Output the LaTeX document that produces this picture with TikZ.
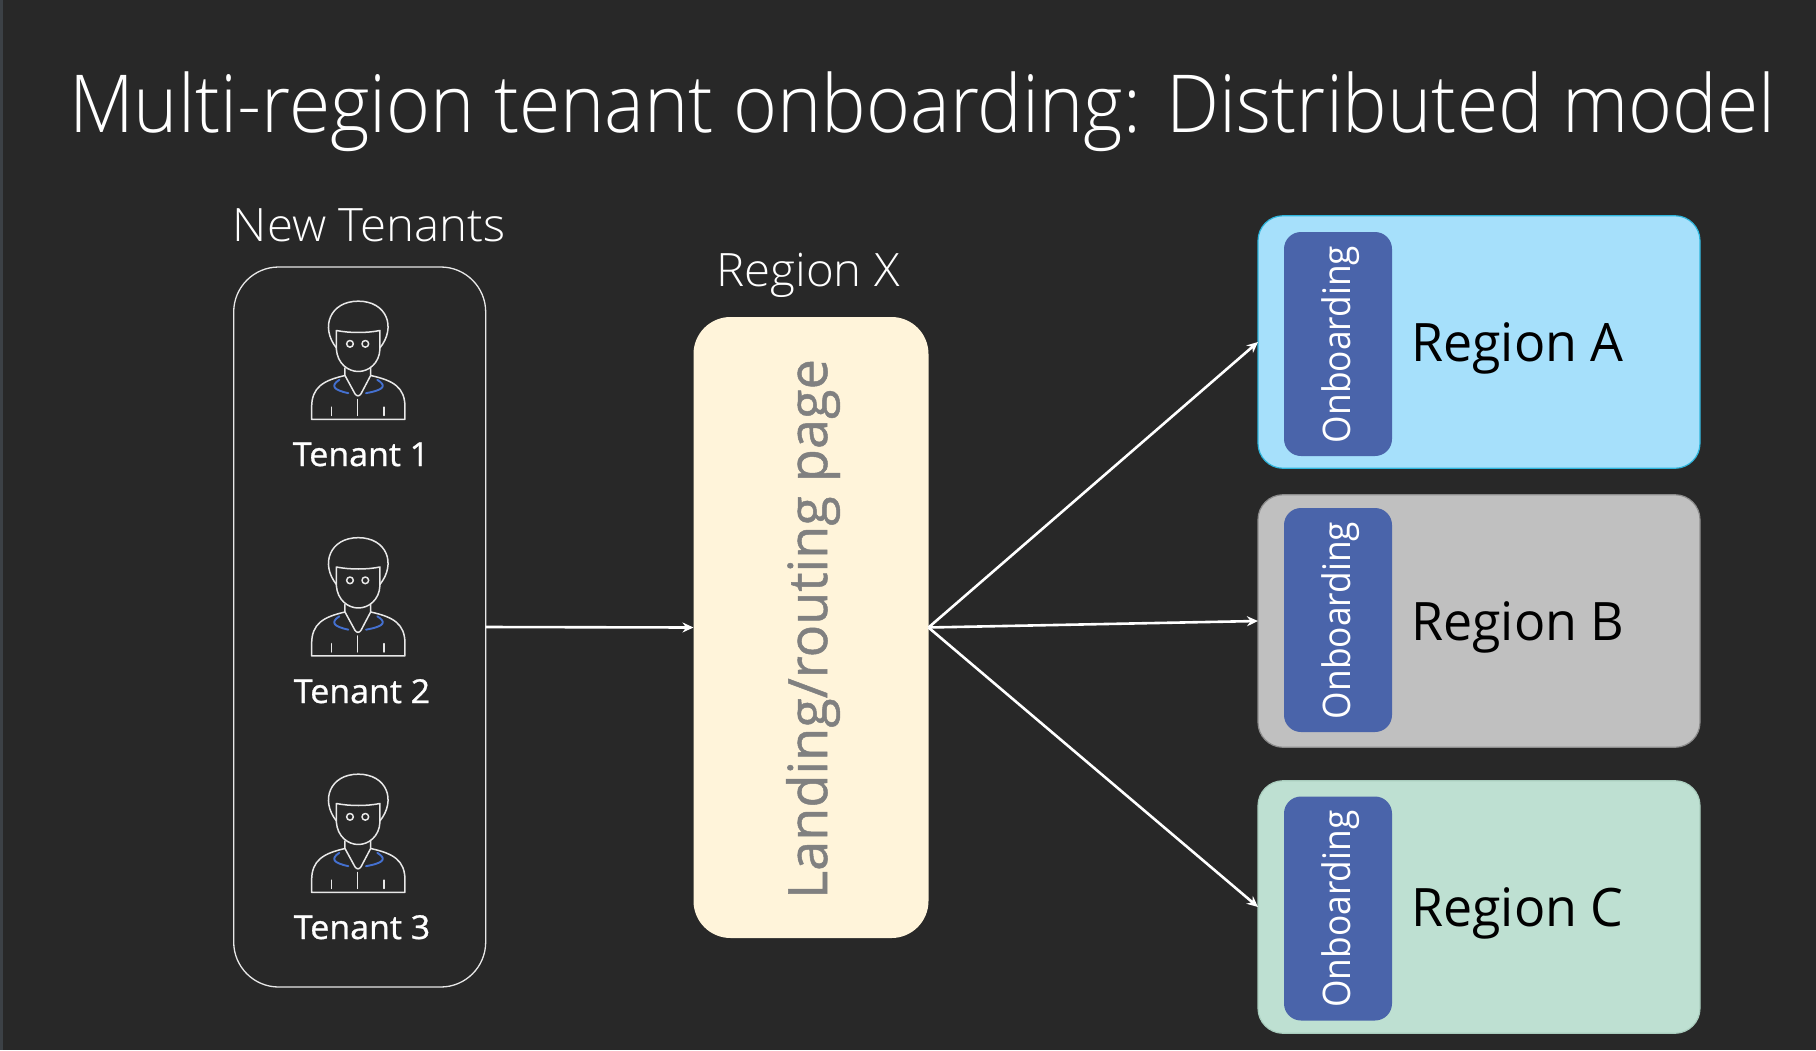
\documentclass[tikz,border=0pt]{standalone}
\usepackage{fontspec}
\setmainfont{Open Sans}[UprightFont={* Light}]
\newfontfamily\medfont{Open Sans}
\newfontfamily\boldishfont{Open Sans}[FakeBold=0.9]
\usetikzlibrary{arrows.meta}
\definecolor{bgc}{HTML}{282828}
\definecolor{stripc}{HTML}{3C4146}
\definecolor{linec}{HTML}{E8E8E8}
\definecolor{landc}{HTML}{FFF4DA}
\definecolor{onbc}{HTML}{4A64AA}
\definecolor{rega}{HTML}{A6E0FB}
\definecolor{regaline}{HTML}{2DB5DC}
\definecolor{regb}{HTML}{C0C0C0}
\definecolor{regbline}{HTML}{8C8C8C}
\definecolor{regc}{HTML}{BEE0D2}
\definecolor{regcline}{HTML}{A9CDBE}
\definecolor{iconblue}{HTML}{4470D0}
\tikzset{
  x=1pt,y=-1pt,
  regionbox/.style={draw=#1,line width=1.2pt,rounded corners=25pt,inner sep=0pt,outer sep=0pt,minimum width=442pt,minimum height=252.5pt},
  onbbox/.style={fill=onbc,rounded corners=17pt,inner sep=0pt,outer sep=0pt,minimum width=108pt,minimum height=224pt},
  onbtext/.style={rotate=90,text=white,font=\medfont\fontsize{38}{38}\selectfont,inner sep=0pt,xscale=0.93,transform shape},
  regiontext/.style={anchor=base west,text=black,font=\medfont\fontsize{53}{53}\selectfont,inner sep=0pt,xscale=0.98},
  heading/.style={anchor=base,text=white,font=\fontsize{46}{46}\selectfont,inner sep=0pt,xscale=1.03},
  tenanttext/.style={anchor=base,text=white,font=\boldishfont\fontsize{33}{33}\selectfont,inner sep=0pt,xscale=1.03},
  flow/.style={draw=white,line width=2.6pt,-{Stealth[length=11pt,width=10pt]}},
  iconline/.style={draw=#1,line width=1.5pt,line cap=round,line join=round},
}
\newcommand{\tenanticon}[1]{%
\begin{scope}[shift={(220,#1)},x=0.3333pt,y=-0.3333pt]
 \draw[iconline=linec] (349,232) .. controls (300,170) and (330,92) .. (415,92) .. controls (500,92) and (530,170) .. (480,232);
 \draw[iconline=linec] (349,180) .. controls (390,188) and (440,188) .. (480,180) -- (480,235) .. controls (478,280) and (445,303) .. (415,303) .. controls (385,303) and (352,280) .. (349,235) -- cycle;
 \draw[iconline=linec] (375,292) -- (375,315) -- (405,370) .. controls (410,378) and (418,378) .. (423,370) -- (452,315) -- (452,292);
 \draw[iconline=linec] (375,315) .. controls (310,330) and (275,350) .. (275,410) -- (275,447) -- (555,447) -- (555,410) .. controls (555,350) and (520,330) .. (452,315);
 \draw[iconline=linec] (334,410) -- (334,435) (413,387) -- (413,435) (492,410) -- (492,435);
 \draw[iconline=linec] (390,220) circle (10);
 \draw[iconline=linec] (436,220) circle (10);
 \draw[iconline=iconblue,line width=1.9pt] (358,328) .. controls (332,345) and (338,358) .. (385,368);
 \draw[iconline=iconblue,line width=1.9pt] (472,328) .. controls (500,345) and (495,358) .. (438,368);
\end{scope}}
\begin{document}
\begin{tikzpicture}
\useasboundingbox (0,0) rectangle (1816,1050);
\fill[bgc] (0,0) rectangle (1816,1050);
\fill[stripc] (0,0) rectangle (2.5,1050);

\node[anchor=base west,text=white,inner sep=0pt,font=\fontsize{80}{80}\selectfont,xscale=0.938] (title) at (69,132) {Multi-region tenant onboarding: Distributed model};

\node[heading] (newt) at (369,241) {New Tenants};
\node[heading] (regx) at (808,286) {Region X};

\node[draw=linec,line width=1.3pt,rounded corners=45pt,inner sep=0pt,outer sep=0pt,minimum width=252pt,minimum height=720pt] (tenants) at (359.7,627) {};

\tenanticon{270.5}
\tenanticon{507}
\tenanticon{743.5}
\node[tenanttext] (t1) at (361,466) {Tenant 1};
\node[tenanttext] (t2) at (362,703) {Tenant 2};
\node[tenanttext] (t3) at (362,939) {Tenant 3};

\node[fill=landc,rounded corners=37pt,inner sep=0pt,outer sep=0pt,minimum width=235pt,minimum height=621pt] (landing) at (811,627.5) {};
\node[rotate=90,text=gray,font=\boldishfont\fontsize{54}{54}\selectfont,inner sep=0pt] (landtext) at (813,629) {Landing/routing page};

\node[regionbox=regaline,fill=rega] (ra) at (1479,342) {};
\node[regionbox=regbline,fill=regb] (rb) at (1479,621) {};
\node[regionbox=regcline,fill=regc] (rc) at (1479,907) {};

\node[onbbox] (oa) at (1338,344) {};
\node[onbbox] (ob) at (1338,620) {};
\node[onbbox] (oc) at (1338,908.5) {};
\node[onbtext] (oat) at (1341,344.5) {Onboarding};
\node[onbtext] (obt) at (1341,620.5) {Onboarding};
\node[onbtext] (oct) at (1341,909) {Onboarding};

\node[regiontext] (la) at (1411,361) {Region A};
\node[regiontext] (lb) at (1411,640) {Region B};
\node[regiontext] (lc) at (1411,926) {Region C};

\draw[flow] (tenants.east) -- (landing.west);
\draw[flow] (landing.east) -- (ra.west);
\draw[flow] (landing.east) -- (rb.west);
\draw[flow] (landing.east) -- (rc.west);
\end{tikzpicture}
\end{document}
